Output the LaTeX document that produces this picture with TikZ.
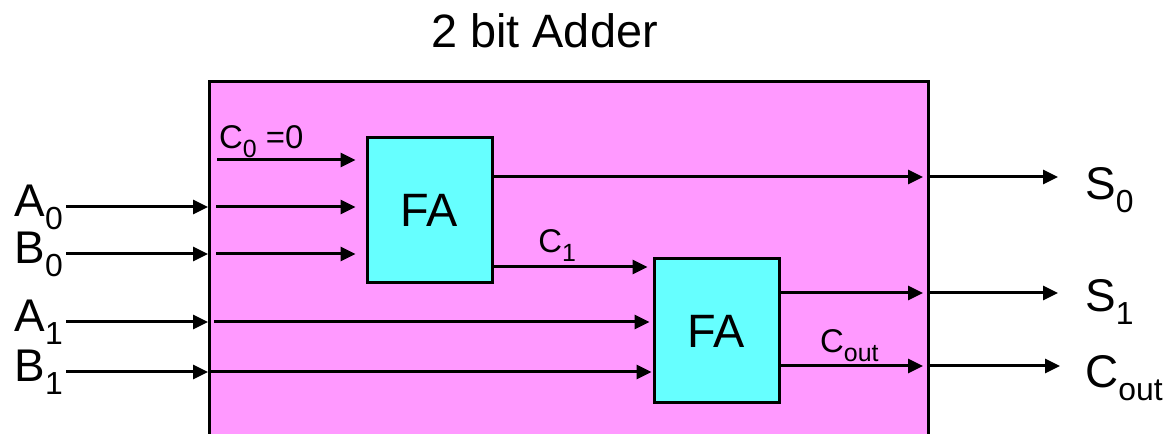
\documentclass[tikz,border=0pt]{standalone}
\usepackage{fontspec}
\setmainfont{Liberation Sans}
\usepackage{xcolor}
\usetikzlibrary{arrows.meta,calc}

\definecolor{boxpink}{RGB}{255,153,255}
\definecolor{facyan}{RGB}{102,255,255}

\newcommand{\bigsub}[1]{\raisebox{-13bp}{\fontsize{32}{32}\selectfont #1}}
\newcommand{\smallsub}[1]{\raisebox{-9bp}{\fontsize{25}{25}\selectfont #1}}

\tikzset{
  wire/.style={line width=3bp, -{Triangle[length=15bp,width=14bp]}},
  fabox/.style={draw, line width=3bp, fill=facyan, minimum width=125bp,
    minimum height=145bp, font=\fontsize{47}{50}\selectfont},
  biglbl/.style={font=\fontsize{46}{50}\selectfont, inner sep=3bp},
  smalllbl/.style={font=\fontsize{33}{36}\selectfont, inner sep=0pt},
}

\begin{document}
\begin{tikzpicture}[x=1bp, y=-1bp]
  \useasboundingbox (0,0) rectangle (1165,434);

  % ---------- adder body and the two full adders ----------
  \node[draw, line width=3bp, fill=boxpink, anchor=north west, inner sep=0pt,
    minimum width=719bp, minimum height=380bp] (adder) at (208,80) {};
  \node[anchor=base, font=\fontsize{47}{50}\selectfont] (title) at (544.5,48) {2 bit Adder};

  \node[fabox] (fa1) at (429.5,210.5) {FA};
  \node[fabox, minimum height=144bp] (fa2) at (716.5,331) {FA};

  % pins on the adder border
  \coordinate (a0pin) at (208,207);
  \coordinate (b0pin) at (208,254);
  \coordinate (a1pin) at (208,322);
  \coordinate (b1pin) at (208,372);
  \coordinate (s0pin) at (927,177);
  \coordinate (s1pin) at (927,293);
  \coordinate (coutpin) at (927,366);
  \coordinate (c0start) at (217,160);

  % ---------- inputs ----------
  \node[biglbl, anchor=east] (A0) at (66,207) {A\bigsub{0}};
  \node[biglbl, anchor=east] (B0) at (66,254) {B\bigsub{0}};
  \node[biglbl, anchor=east] (A1) at (66,322) {A\bigsub{1}};
  \node[biglbl, anchor=east] (B1) at (66,372) {B\bigsub{1}};

  \draw[wire] (A0) -- (a0pin);
  \draw[wire] (B0) -- (b0pin);
  \draw[wire] (A1) -- (a1pin);
  \draw[wire] (B1) -- (b1pin);

  % carry in
  \node[smalllbl, anchor=south west] (C0) at ($(c0start)+(2,-2)$) {C\smallsub{0} =0};
  \draw[wire, shorten >=10bp] (c0start) -- (c0start -| fa1.west);

  % into the first FA
  \draw[wire, shorten <=8bp, shorten >=10bp] (a0pin) -- (a0pin -| fa1.west);
  \draw[wire, shorten <=8bp, shorten >=10bp] (b0pin) -- (b0pin -| fa1.west);

  % into the second FA
  \draw[wire, shorten <=6bp, shorten >=3bp] (a1pin) -- (a1pin -| fa2.west);
  \draw[wire, shorten >=1bp] (b1pin) -- (b1pin -| fa2.west);
  \draw[wire, shorten >=5bp] (fa1.east |- 0,267) -- (fa2.west |- 0,267)
    node[smalllbl, pos=0.4, above=4bp] (C1) {C\smallsub{1}};

  % ---------- outputs ----------
  \draw[wire, shorten >=4bp] (fa1.east |- s0pin) -- (s0pin);
  \draw[wire, shorten >=4bp] (fa2.east |- s1pin) -- (s1pin);
  \draw[wire, shorten >=4bp] (fa2.east |- coutpin) -- (coutpin)
    node[smalllbl, pos=0.47, above=3bp] (Cin) {C\smallsub{out}};

  \node[biglbl, anchor=west] (S0) at (1082,190) {S\bigsub{0}};
  \node[biglbl, anchor=west] (S1) at (1082,302) {S\bigsub{1}};
  \node[biglbl, anchor=west] (Cout) at (1082,378) {C\bigsub{out}};

  \coordinate (s0end) at (1058,177);
  \coordinate (s1end) at (1058,293);
  \coordinate (coutend) at (1060,366);
  \draw[wire] (s0pin) -- (s0end);
  \draw[wire] (s1pin) -- (s1end);
  \draw[wire] (coutpin) -- (coutend);
\end{tikzpicture}
\end{document}
